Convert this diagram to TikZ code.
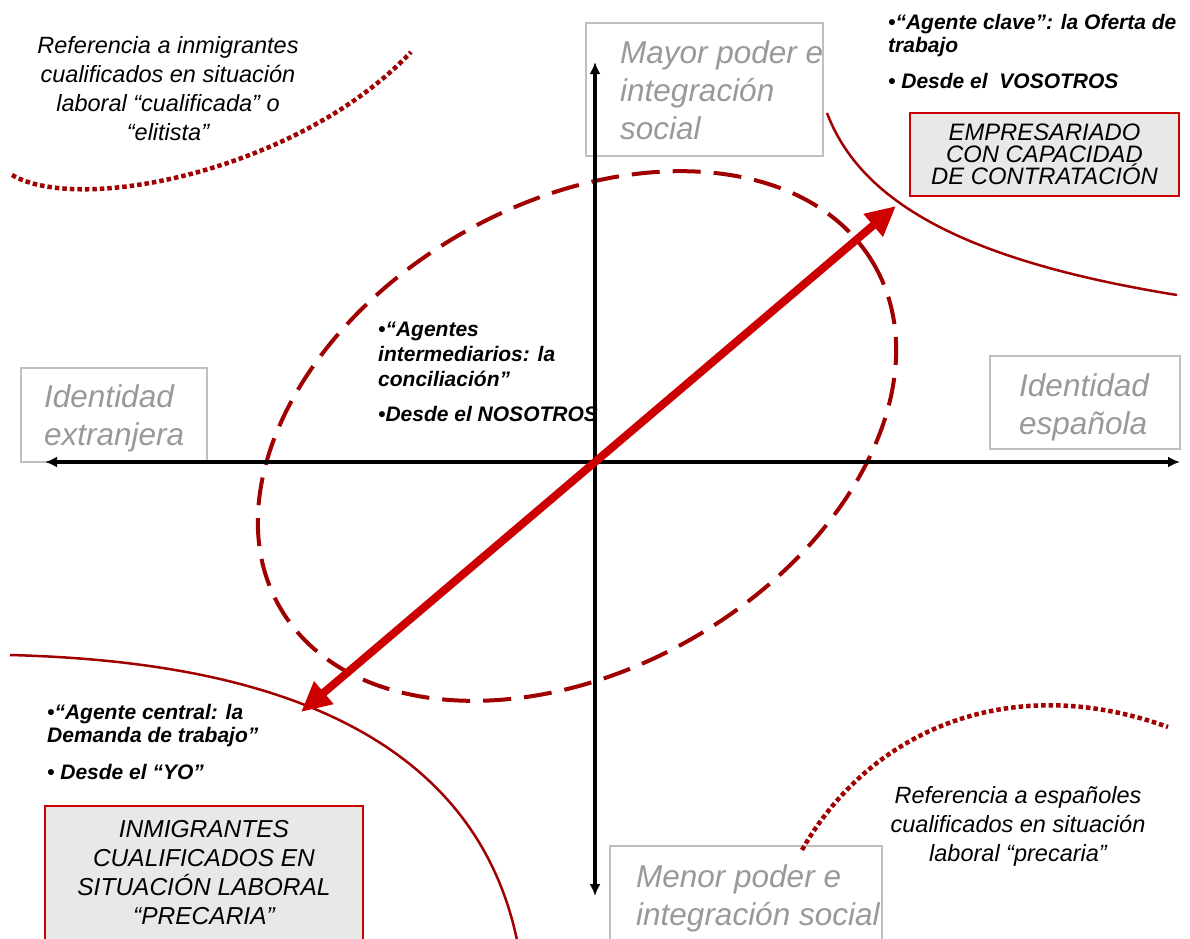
\documentclass[tikz,border=0pt]{standalone}
\usepackage{fontspec}
\setmainfont{Liberation Sans}
\usetikzlibrary{arrows.meta}
\definecolor{darkred}{HTML}{A00000}
\definecolor{arrowred}{HTML}{CC0000}
\definecolor{boxgray}{HTML}{BFBFBF}
\definecolor{textgray}{HTML}{999999}
\definecolor{fillgray}{HTML}{E8E8E8}

\begin{document}
\begin{tikzpicture}[x=1pt,y=-1pt,
  axis/.style={line width=4pt,{Latex[length=12pt,width=11pt]}-{Latex[length=12pt,width=11pt]}},
  pole/.style={draw=boxgray,line width=1.8pt,anchor=north west,inner sep=0pt},
  poletext/.style={anchor=north west,inner sep=0pt,align=left,text=textgray,
    font=\fontsize{31.5}{38}\selectfont\itshape},
  agent/.style={draw=arrowred,line width=1.5pt,fill=fillgray,align=center,inner sep=0pt},
  note/.style={anchor=north west,inner sep=0pt,align=left,
    font=\fontsize{21}{23}\selectfont\bfseries\itshape},
  remark/.style={anchor=north,inner sep=0pt,align=center,
    font=\fontsize{23.5}{29}\selectfont\itshape},
  frontier/.style={draw=darkred,line width=2.5pt},
  dotline/.style={draw=darkred,line width=4.5pt,dash pattern=on 4.5pt off 3pt}]
  \path[use as bounding box,fill=white] (0,0) rectangle (1190,938);

  \node[pole,minimum width=237pt,minimum height=133pt] (mayorbox) at (585,22) {};
  \node[poletext] (mayor) at (620,40) {Mayor poder e\\integración\\social};
  \node[pole,minimum width=186pt,minimum height=94pt] (extbox) at (20,367) {};
  \node[poletext] (extranjera) at (44,384) {Identidad\\extranjera};
  \node[pole,minimum width=190pt,minimum height=93pt] (espbox) at (989,355) {};
  \node[poletext] (espanola) at (1019,373) {Identidad\\española};
  \node[pole,minimum width=272pt,minimum height=110pt] (menorbox) at (609,845) {};
  \node[poletext] (menor) at (636,864) {Menor poder e\\integración social};

  \node[agent,minimum width=269pt,minimum height=83pt,
    font=\fontsize{23.8}{22}\selectfont\itshape] (empresa) at (1044.5,154.5)
    {EMPRESARIADO\\CON CAPACIDAD\\DE CONTRATACIÓN};
  \node[agent,minimum width=318pt,minimum height=134pt,
    font=\fontsize{24.5}{29}\selectfont\itshape] (inmigrantes) at (204,873)
    {INMIGRANTES\\CUALIFICADOS EN\\SITUACIÓN LABORAL\\“PRECARIA”};

  \node[note] (clave) at (888,14) {•“Agente clave”: la Oferta de\\trabajo\\[13pt]• Desde el\ \ VOSOTROS};
  \node[note,font=\fontsize{21}{25}\selectfont\bfseries\itshape] (conciliacion) at (378,322)
    {•“Agentes\\intermediarios: la\\conciliación”\\[10pt]•Desde el NOSOTROS};
  \node[note] (central) at (47,704) {•“Agente central: la\\Demanda de trabajo”\\[14pt]• Desde el “YO”};

  \node[remark] (elitista) at (168,36)
    {Referencia a inmigrantes\\cualificados en situación\\laboral “cualificada” o\\“elitista”};
  \node[remark] (precaria) at (1018,786)
    {Referencia a españoles\\cualificados en situación\\laboral “precaria”};

  \draw[draw=darkred,line width=4pt,dash pattern=on 28pt off 13pt,rotate around={30:(577,436)}]
    (577,436) ellipse [x radius=343pt,y radius=233pt];
  \draw[frontier] (827,113) .. controls (860,200) and (960,260) .. (1177,295);
  \draw[frontier] (10,655) .. controls (200,660) and (470,700) .. (518,945);
  \draw[dotline] (12,175) .. controls (80,215) and (300,170) .. (411,52);
  \draw[dotline] (802,850) .. controls (870,730) and (1010,670) .. (1168,727);

  \coordinate (origin) at (595,462);
  \coordinate (top) at (595,62);
  \coordinate (bottom) at (595,896);
  \coordinate (west) at (45,462);
  \coordinate (east) at (1180,462);
  \draw[axis] (bottom) -- (top);
  \draw[axis] (west) -- (east);

  \coordinate (demanda) at (301,712);
  \coordinate (oferta) at (896,206);
  \draw[arrowred,line width=8pt,{Triangle[length=30pt,width=28pt]}-{Triangle[length=30pt,width=28pt]}]
    (demanda) -- (oferta);
\end{tikzpicture}
\end{document}
